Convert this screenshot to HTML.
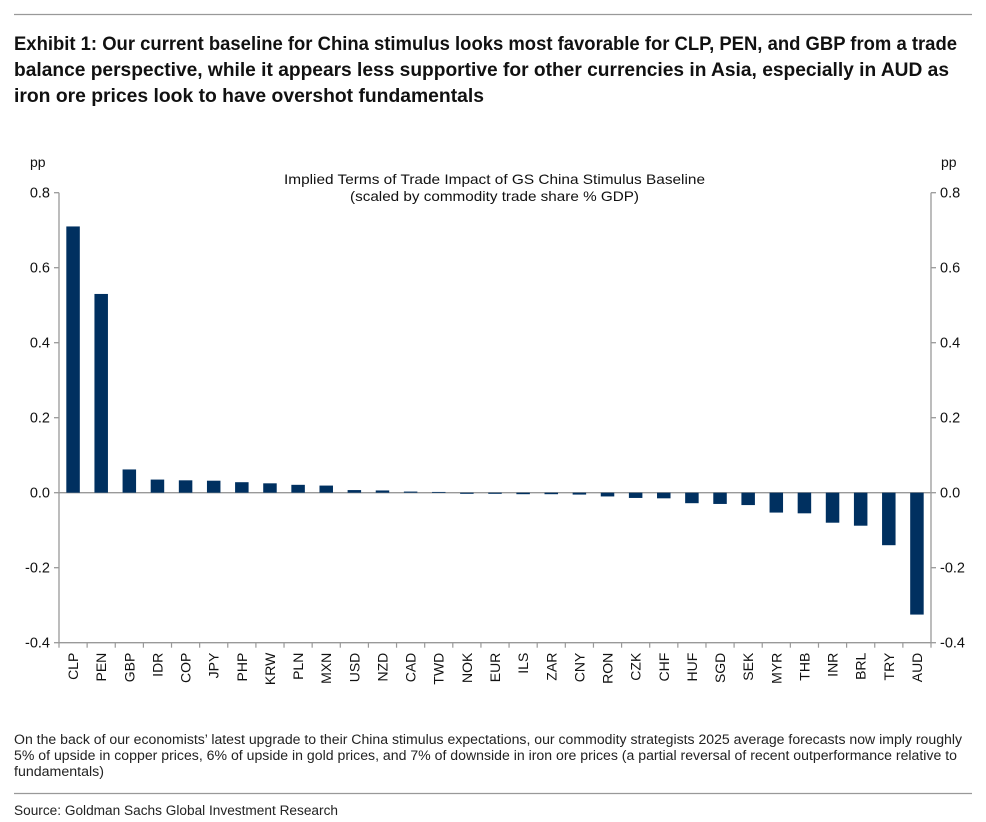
<!DOCTYPE html>
<html><head><meta charset="utf-8"><style>
body{margin:0;background:#fff}
svg{display:block;font-family:"Liberation Sans",Arial,sans-serif}
</style></head><body>
<svg id="c" width="986" height="822" viewBox="0 0 986 822">
<line x1="14" y1="14.5" x2="972" y2="14.5" stroke="#999" stroke-width="1.2"/>
<g font-weight="bold" font-size="19" fill="#111">
<text x="14" y="50" textLength="943" lengthAdjust="spacingAndGlyphs">Exhibit 1: Our current baseline for China stimulus looks most favorable for CLP, PEN, and GBP from a trade</text>
<text x="14" y="76" textLength="935" lengthAdjust="spacingAndGlyphs">balance perspective, while it appears less supportive for other currencies in Asia, especially in AUD as</text>
<text x="14" y="102" textLength="470" lengthAdjust="spacingAndGlyphs">iron ore prices look to have overshot fundamentals</text>
</g>
<g font-size="14" fill="#111">
<text x="284" y="184" textLength="421" lengthAdjust="spacingAndGlyphs">Implied Terms of Trade Impact of GS China Stimulus Baseline</text>
<text x="350" y="201" textLength="289" lengthAdjust="spacingAndGlyphs">(scaled by commodity trade share % GDP)</text>
</g>
<text x="30" y="167" font-size="14" fill="#111">pp</text>
<text x="941" y="167" font-size="14" fill="#111">pp</text>
<g id="plot"></g>
<g font-size="13.5" fill="#222">
<text x="14" y="744" textLength="948" lengthAdjust="spacingAndGlyphs">On the back of our economists’ latest upgrade to their China stimulus expectations, our commodity strategists 2025 average forecasts now imply roughly</text>
<text x="14" y="760" textLength="943" lengthAdjust="spacingAndGlyphs">5% of upside in copper prices, 6% of upside in gold prices, and 7% of downside in iron ore prices (a partial reversal of recent outperformance relative to</text>
<text x="14" y="776" textLength="90" lengthAdjust="spacingAndGlyphs">fundamentals)</text>
</g>
<line x1="14" y1="793.5" x2="972" y2="793.5" stroke="#999" stroke-width="1.2"/>
<text x="14" y="815" font-size="13.5" fill="#222" textLength="324" lengthAdjust="spacingAndGlyphs">Source: Goldman Sachs Global Investment Research</text>
</svg>
<script>
const categories=["CLP","PEN","GBP","IDR","COP","JPY","PHP","KRW","PLN","MXN","USD","NZD","CAD","TWD","NOK","EUR","ILS","ZAR","CNY","RON","CZK","CHF","HUF","SGD","SEK","MYR","THB","INR","BRL","TRY","AUD"];
const values=[0.71,0.53,0.062,0.035,0.033,0.032,0.028,0.025,0.021,0.019,0.007,0.006,0.003,0.002,-0.003,-0.003,-0.004,-0.004,-0.005,-0.01,-0.014,-0.015,-0.028,-0.03,-0.033,-0.053,-0.055,-0.08,-0.088,-0.14,-0.325];
const tickValues=[0.8,0.6,0.4,0.2,0,-0.2,-0.4];
const tickLabels=["0.8","0.6","0.4","0.2","0.0","-0.2","-0.4"];
const NS="http://www.w3.org/2000/svg";
const g=document.getElementById('plot');
const L=59,R=931,yTop=192.7,yBot=642.7,vMax=0.8,vMin=-0.4;
const y=v=>yTop+(vMax-v)/(vMax-vMin)*(yBot-yTop);
const n=categories.length,step=(R-L)/n;
const x=i=>L+step*(i+0.5);
function mk(t,a){const e=document.createElementNS(NS,t);for(const k in a)e.setAttribute(k,a[k]);g.appendChild(e);return e;}
let e;
e=mk('line',{x1:L,y1:yTop,x2:L,y2:yBot,stroke:'#999','stroke-width':1.3});


e=mk('line',{x1:R,y1:yTop,x2:R,y2:yBot,stroke:'#999','stroke-width':1.3});


e=mk('line',{x1:L,y1:y(0),x2:R,y2:y(0),stroke:'#999','stroke-width':1.3});


e=mk('line',{x1:L,y1:yBot,x2:R,y2:yBot,stroke:'#999','stroke-width':1.3});


tickValues.forEach((v,i)=>{
 const yy=y(v);
 e=mk('line',{x1:L-5,y1:yy,x2:L,y2:yy,stroke:'#999','stroke-width':1.3});
 
 
 e=mk('line',{x1:R,y1:yy,x2:R+5,y2:yy,stroke:'#999','stroke-width':1.3});
 
 
 e=mk('text',{x:L-9,y:yy+5,'text-anchor':'end','font-size':14.5,fill:'#111'});e.textContent=tickLabels[i];
 
 
 e=mk('text',{x:R+9,y:yy+5,'font-size':14.5,fill:'#111'});e.textContent=tickLabels[i];
 
 
});
for(let i=0;i<=n;i++){
 e=mk('line',{x1:L+step*i,y1:yBot,x2:L+step*i,y2:yBot+5,stroke:'#999','stroke-width':1.2});
 
 
}
categories.forEach((c,i)=>{
 const v=values[i],y0=y(0),yv=y(v),bw=13.5;
 e=mk('rect',{x:x(i)-bw/2,y:Math.min(y0,yv),width:bw,height:Math.max(0.8,Math.abs(yv-y0)),fill:'#003060'});
 
 
 e=mk('text',{x:0,y:0,'text-anchor':'end','font-size':14,fill:'#111',transform:`translate(${x(i)+5},${yBot+10}) rotate(-90)`});
 e.textContent=c;
 
 
});
</script>
</body></html>
